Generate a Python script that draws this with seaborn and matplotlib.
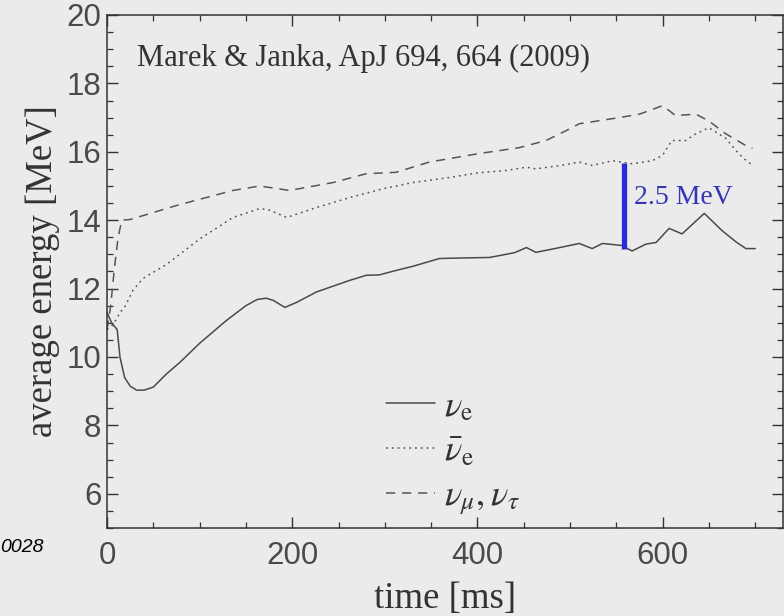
import matplotlib
matplotlib.use("Agg")
import matplotlib.pyplot as plt
import seaborn as sns
import pandas as pd
from matplotlib.ticker import MultipleLocator

# ---- data ----
t_nue = [0, 5, 11, 14, 19, 25, 32, 40, 50, 64, 79, 100, 129, 150, 162, 172, 180, 192, 205, 226,
         262, 280, 294, 312, 330, 359, 390, 413, 440, 453, 463, 480, 510, 524, 535, 556, 567,
         582, 593, 607, 621, 645, 664, 680, 690, 700]
e_nue = [11.3, 11.0, 10.8, 10.0, 9.4, 9.15, 9.03, 9.03, 9.12, 9.5, 9.85, 10.4, 11.07, 11.5, 11.68,
         11.72, 11.65, 11.45, 11.6, 11.9, 12.24, 12.39, 12.4, 12.53, 12.65, 12.88, 12.9, 12.91,
         13.05, 13.2, 13.06, 13.15, 13.32, 13.17, 13.32, 13.26, 13.1, 13.3, 13.35, 13.76, 13.6,
         14.2, 13.7, 13.35, 13.17, 13.17]

t_anue = [0, 5, 10, 14, 19, 28, 39, 64, 100, 136, 165, 175, 194, 226, 262, 298, 330, 370, 402,
          430, 453, 463, 490, 510, 524, 546, 567, 589, 600, 610, 625, 636, 650, 668, 682, 690, 695]
e_anue = [10.8, 10.9, 11.1, 11.3, 11.45, 11.95, 12.3, 12.7, 13.45, 14.08, 14.34, 14.3, 14.08,
          14.37, 14.66, 14.92, 15.1, 15.25, 15.39, 15.45, 15.55, 15.5, 15.6, 15.7, 15.6, 15.74,
          15.65, 15.74, 15.9, 16.33, 16.33, 16.53, 16.7, 16.4, 15.95, 15.75, 15.65]

t_nux = [0, 4, 8, 12, 16, 25, 75, 136, 165, 197, 244, 280, 312, 348, 402, 445, 474, 496, 510,
         553, 575, 600, 614, 636, 650, 668, 690, 697]
e_nux = [10.8, 11.5, 12.6, 13.5, 14.0, 14.02, 14.43, 14.87, 15.0, 14.87, 15.1, 15.36, 15.4,
         15.7, 15.95, 16.12, 16.33, 16.62, 16.82, 17.0, 17.1, 17.35, 17.06, 17.1, 16.9, 16.53,
         16.18, 16.1]

labels = [r"$\nu_{\mathrm{e}}$", r"$\bar{\nu}_{\mathrm{e}}$", r"$\nu_{\mu},\nu_{\tau}$"]

bar_t = 558
bar_lo, bar_hi = 13.15, 15.66
bar_text = "2.5 MeV"
ref_text = "Marek & Janka, ApJ 694, 664 (2009)"
xticks = [0, 200, 400, 600]
yticks = [6, 8, 10, 12, 14, 16, 18, 20]

# ---- style ----
sns.set_theme(style="ticks")
bg = "#ebebeb"
plt.rcParams.update({
    "mathtext.fontset": "stix",
    "figure.facecolor": bg,
    "axes.facecolor": bg,
    "axes.edgecolor": "#333333",
    "axes.linewidth": 1.1,
})
plt.rcParams["font.family"] = ["Liberation Sans", "DejaVu Sans"]

fig = plt.figure(figsize=(7.84, 6.16), dpi=100)
ax = fig.add_axes([107 / 784, 1 - 528 / 616, (783 - 107) / 784, (528 - 15) / 616])

line_col = "#555555"
df_e = pd.DataFrame({"t": t_nue, "E": e_nue})
df_a = pd.DataFrame({"t": t_anue, "E": e_anue})
df_x = pd.DataFrame({"t": t_nux, "E": e_nux})
sns.lineplot(data=df_e, x="t", y="E", ax=ax, color="#4a4a4a", lw=1.1, label=labels[0])
sns.lineplot(data=df_a, x="t", y="E", ax=ax, color=line_col, lw=1.1,
             linestyle=(0, (1.2, 2.6)), label=labels[1])
sns.lineplot(data=df_x, x="t", y="E", ax=ax, color=line_col, lw=1.1,
             linestyle=(0, (6, 4.5)), label=labels[2])

# blue 2.5 MeV bar
ax.vlines(bar_t, bar_lo, bar_hi, color="#2a2ad8", lw=3.8)
ax.text(bar_t + 11, (bar_lo + bar_hi) / 2 + 0.25, bar_text, color="#3535b5",
        family="Liberation Serif", fontsize=20, va="center", ha="left")

ax.text(0.045, 0.915, ref_text, transform=ax.transAxes, family="Liberation Serif",
        fontsize=22, color="#333333", va="center", ha="left")

ax.set_xlim(0, 730)
ax.set_ylim(5, 20)
ax.set_xticks(xticks)
ax.set_yticks(yticks)
ax.xaxis.set_minor_locator(MultipleLocator(50))
ax.yaxis.set_minor_locator(MultipleLocator(0.5))
ax.tick_params(which="both", direction="in", top=True, right=True, colors="#333333",
               labelcolor="#4a4a4a", labelsize=22.5)
ax.tick_params(which="major", length=8, width=1.0)
ax.tick_params(which="minor", length=4, width=0.9)
ax.tick_params(axis="x", which="major", pad=9)
ax.tick_params(axis="y", which="major", pad=4)

ax.set_xlabel("time [ms]", family="Liberation Serif", fontsize=26.5, color="#333333", labelpad=8)
ax.set_ylabel("average energy [MeV]", family="Liberation Serif", fontsize=26.5, color="#333333",
              labelpad=5)

leg = ax.legend(loc="upper left", bbox_to_anchor=(0.413, 0.271), frameon=False,
                fontsize=26, handlelength=1.35, handletextpad=0.25, labelspacing=0.27,
                borderpad=0, borderaxespad=0)
for txt in leg.get_texts():
    txt.set_color("#333333")

fig.text(0.0, 1 - 548 / 616, "0028", fontsize=14, style="italic", color="black",
         va="center", ha="left")

fig.savefig("out.png", dpi=100, facecolor=bg)
